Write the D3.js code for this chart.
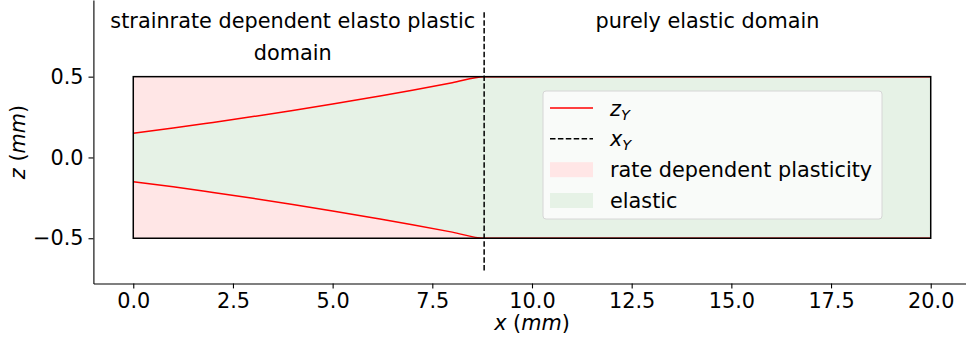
<!DOCTYPE html>
<html>
<head>
<meta charset="utf-8">
<script src="https://cdn.jsdelivr.net/npm/d3@7"></script>
<style>
  body { margin: 0; background: #fff; }
  svg { display: block; font-family: 'DejaVu Sans', sans-serif; }
</style>
</head>
<body>
<div id="chart"></div>
<script>
// yield surface z_Y along the bar, x_Y where it meets the surface
const xVals = [0, 1, 2, 3, 4, 5, 6, 7, 8, 8.8, 20]
const zYVals = [0.15, 0.182, 0.217, 0.253, 0.291, 0.331, 0.373, 0.416, 0.462, 0.5, 0.5]
const xY = 8.8
const dashSpan = [-0.7, 0.9]
const barX = [0, 20]
const barZ = [-0.5, 0.5]
const xTicks = [0, 2.5, 5, 7.5, 10, 12.5, 15, 17.5, 20]
const yTicks = [-0.5, 0, 0.5]
const regionLabels = [
  { x: 4.0, z: 0.8, lines: ['strainrate dependent elasto plastic', 'domain'] },
  { x: 14.4, z: 0.8, lines: ['purely elastic domain'] }
]
const legendItems = ['zY', 'xY', 'rate dependent plasticity', 'elastic']

const width = 966
const height = 339
const fs = 20.8
const pink = '#ffe6e6'
const green = '#e6f2e6'

const svg = d3.select('#chart')
  .append('svg')
  .attr('width', width)
  .attr('height', height)

const x = d3.scaleLinear().domain([-1, 20.9]).range([93.4, 966.6])
const y = d3.scaleLinear().domain([-0.78, 0.975]).range([283.5, -0.1])

const pts = xVals.map((d, i) => ({ x: d, z: zYVals[i] }))

// fills
svg.append('path')
  .attr('fill', pink)
  .attr('d', d3.area().x(d => x(d.x)).y0(y(barZ[1])).y1(d => y(d.z)).curve(d3.curveMonotoneX)(pts))
svg.append('path')
  .attr('fill', pink)
  .attr('d', d3.area().x(d => x(d.x)).y0(y(barZ[0])).y1(d => y(-d.z)).curve(d3.curveMonotoneX)(pts))
svg.append('path')
  .attr('fill', green)
  .attr('d', d3.area().x(d => x(d.x)).y0(d => y(-d.z)).y1(d => y(d.z)).curve(d3.curveMonotoneX)(pts))

// z_Y lines
const line = d3.line().x(d => x(d.x)).y(d => y(d.z)).curve(d3.curveMonotoneX)
svg.append('path')
  .attr('fill', 'none').attr('stroke', 'red').attr('stroke-width', 1.5)
  .attr('d', line(pts))
svg.append('path')
  .attr('fill', 'none').attr('stroke', 'red').attr('stroke-width', 1.5)
  .attr('d', line(pts.map(d => ({ x: d.x, z: -d.z }))))

// bar outline
svg.append('rect')
  .attr('x', x(barX[0]))
  .attr('y', y(barZ[1]))
  .attr('width', x(barX[1]) - x(barX[0]))
  .attr('height', y(barZ[0]) - y(barZ[1]))
  .attr('fill', 'none')
  .attr('stroke', 'black')
  .attr('stroke-width', 1.5)

// x_Y
svg.append('line')
  .attr('x1', x(xY)).attr('x2', x(xY))
  .attr('y1', y(dashSpan[0])).attr('y2', y(dashSpan[1]))
  .attr('stroke', 'black')
  .attr('stroke-width', 1.5)
  .attr('stroke-dasharray', '5.5 2.4')

// region labels
regionLabels.forEach(l => {
  const t = svg.append('text')
    .attr('x', x(l.x))
    .attr('y', y(l.z))
    .attr('text-anchor', 'middle')
    .attr('font-size', fs)
  l.lines.forEach((s, i) => {
    t.append('tspan').attr('x', x(l.x)).attr('dy', i === 0 ? 0 : 32).text(s)
  })
})

// axes
const xAxis = svg.append('g')
  .attr('transform', `translate(0,${y(-0.78)})`)
  .call(d3.axisBottom(x).tickValues(xTicks).tickFormat(d3.format('.1f'))
    .tickSize(4.9).tickSizeOuter(0).tickPadding(4.9))
const yAxis = svg.append('g')
  .attr('transform', `translate(${x(-1)},0)`)
  .call(d3.axisLeft(y).tickValues(yTicks).tickFormat(d => d3.format('.1f')(d).replace('-', '\u2212'))
    .tickSize(4.9).tickSizeOuter(0).tickPadding(4.9))
;[xAxis, yAxis].forEach(g => {
  g.select('.domain').attr('stroke', 'black').attr('stroke-width', 1.1)
  g.selectAll('.tick line').attr('stroke', 'black').attr('stroke-width', 1.1)
  g.selectAll('.tick text').attr('font-size', fs).attr('font-family', 'DejaVu Sans').attr('fill', 'black')
})

// axis labels
const xl = svg.append('text')
  .attr('x', 532).attr('y', 330)
  .attr('text-anchor', 'middle')
  .attr('font-size', fs)
xl.append('tspan').attr('font-style', 'italic').text('x')
xl.append('tspan').text(' (')
xl.append('tspan').attr('font-style', 'italic').text('mm')
xl.append('tspan').text(')')

const yl = svg.append('text')
  .attr('transform', 'translate(25,142) rotate(-90)')
  .attr('text-anchor', 'middle')
  .attr('font-size', fs)
yl.append('tspan').attr('font-style', 'italic').text('z')
yl.append('tspan').text(' (')
yl.append('tspan').attr('font-style', 'italic').text('mm')
yl.append('tspan').text(')')

// legend
const legend = svg.append('g').attr('transform', 'translate(543,91)')
legend.append('rect')
  .attr('x', 0).attr('y', 0)
  .attr('width', 339).attr('height', 128)
  .attr('rx', 3)
  .attr('fill', '#fbfdfb')
  .attr('fill-opacity', 0.85)
  .attr('stroke', '#d6d6d6')
  .attr('stroke-width', 1)

const rowY = d3.scalePoint().domain(legendItems).range([17, 109.5])

legend.append('line')
  .attr('x1', 7).attr('x2', 50)
  .attr('y1', rowY('zY')).attr('y2', rowY('zY'))
  .attr('stroke', 'red').attr('stroke-width', 1.5)
legend.append('line')
  .attr('x1', 7).attr('x2', 50)
  .attr('y1', rowY('xY')).attr('y2', rowY('xY'))
  .attr('stroke', 'black').attr('stroke-width', 1.5)
  .attr('stroke-dasharray', '5.5 2.4')
legend.append('rect')
  .attr('x', 7).attr('y', rowY('rate dependent plasticity') - 7.5)
  .attr('width', 43).attr('height', 15)
  .attr('fill', pink)
legend.append('rect')
  .attr('x', 7).attr('y', rowY('elastic') - 7.5)
  .attr('width', 43).attr('height', 15)
  .attr('fill', green)

legendItems.forEach(name => {
  const t = legend.append('text')
    .attr('x', 67)
    .attr('y', rowY(name) + 7.5)
    .attr('font-size', fs)
  if (name === 'zY' || name === 'xY') {
    t.append('tspan').attr('font-style', 'italic').text(name[0])
    t.append('tspan').attr('font-style', 'italic').attr('font-size', fs * 0.7).attr('dy', 4).text('Y')
  } else {
    t.text(name)
  }
})
</script>
</body>
</html>
